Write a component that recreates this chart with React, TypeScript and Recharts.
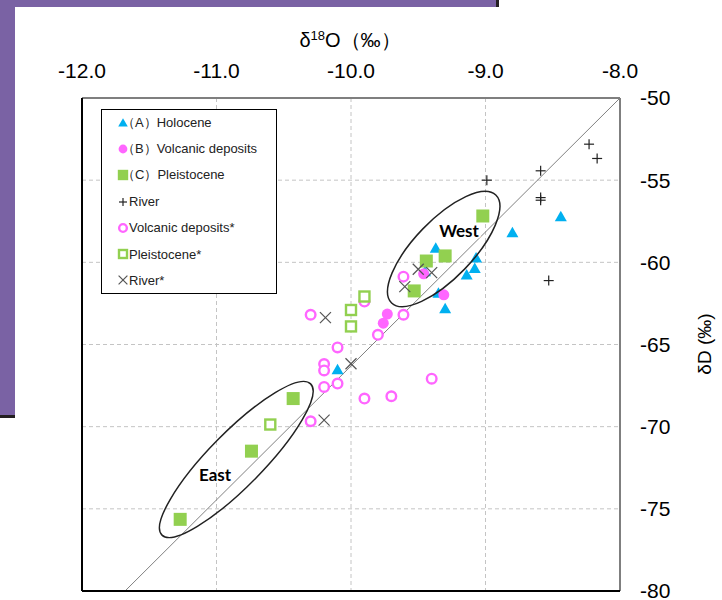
import { CartesianGrid, Legend, ReferenceLine, Scatter, ScatterChart, XAxis, YAxis } from 'recharts';

const xTicks = [-12, -11, -10, -9, -8];
const yTicks = [-50, -55, -60, -65, -70, -75, -80];

// [δ18O, δD]
const holocene = [
  [-9.37, -59.14], [-9.45, -60.58], [-9.07, -59.73], [-9.08, -60.37], [-9.14, -60.77],
  [-9.35, -61.88], [-9.3, -62.83], [-10.1, -66.53], [-8.8, -58.2], [-8.44, -57.22],
];
const volcanic = [[-9.46, -60.7], [-9.31, -61.98], [-9.73, -63.15], [-9.76, -63.7]];
const pleistocene = [
  [-9.44, -59.92], [-9.3, -59.61], [-9.53, -61.74], [-9.02, -57.18],
  [-10.43, -68.29], [-10.74, -71.49], [-11.27, -75.64],
];
const river = [
  [-8.23, -52.81], [-8.17, -53.68], [-8.59, -54.43], [-8.99, -55.0],
  [-8.59, -56.06], [-8.59, -56.22], [-8.53, -61.11],
];
const volcanicStar = [
  [-9.61, -60.87], [-9.9, -62.39], [-10.3, -63.19], [-9.61, -63.19], [-9.8, -64.41],
  [-10.1, -65.18], [-10.2, -66.19], [-10.2, -66.58], [-10.2, -67.58], [-10.1, -67.38],
  [-9.4, -67.08], [-9.9, -68.29], [-9.7, -68.15], [-10.3, -69.67],
];
const pleistoceneStar = [[-9.9, -62.08], [-10.0, -62.9], [-10.0, -63.9], [-10.6, -69.87]];
const riverStar = [
  [-9.5, -60.42], [-9.4, -60.63], [-9.6, -61.48], [-10.19, -63.36], [-10.0, -66.17], [-10.2, -69.6],
];

const lineEnds = [{ x: -11.68, y: -80 }, { x: -8, y: -50 }];

const BLUE = '#00B0F0';
const PINK = '#FF66FF';
const GREEN = '#92D050';
const font = "'Liberation Sans', Arial, sans-serif";

type Kind = 'tri' | 'dot' | 'sq' | 'plus' | 'ring' | 'box' | 'cross';

function marker(kind: Kind, cx: number, cy: number, k = 1) {
  switch (kind) {
    case 'tri':
      return <polygon points={`${cx},${cy - 6 * k} ${cx - 6 * k},${cy + 4.5 * k} ${cx + 6 * k},${cy + 4.5 * k}`} fill={BLUE} />;
    case 'dot':
      return <circle cx={cx} cy={cy} r={5.5 * k} fill={PINK} />;
    case 'sq':
      return <rect x={cx - 6.5 * k} y={cy - 6.5 * k} width={13 * k} height={13 * k} fill={GREEN} />;
    case 'plus':
      return (
        <g stroke="#222" strokeWidth={1.2}>
          <line x1={cx - 5 * k} y1={cy} x2={cx + 5 * k} y2={cy} />
          <line x1={cx} y1={cy - 5 * k} x2={cx} y2={cy + 5 * k} />
        </g>
      );
    case 'ring':
      return <circle cx={cx} cy={cy} r={4.8 * k} fill="#fff" stroke={PINK} strokeWidth={2.4} />;
    case 'box':
      return <rect x={cx - 5 * k} y={cy - 5 * k} width={10 * k} height={10 * k} fill="#fff" stroke={GREEN} strokeWidth={2.4} />;
    default:
      return (
        <g stroke="#555" strokeWidth={1.2}>
          <line x1={cx - 5.5 * k} y1={cy - 5.5 * k} x2={cx + 5.5 * k} y2={cy + 5.5 * k} />
          <line x1={cx - 5.5 * k} y1={cy + 5.5 * k} x2={cx + 5.5 * k} y2={cy - 5.5 * k} />
        </g>
      );
  }
}

const series: { name: string; data: number[][]; kind: Kind; wide?: boolean }[] = [
  { name: '（A）Holocene', data: holocene, kind: 'tri', wide: true },
  { name: '（B）Volcanic deposits', data: volcanic, kind: 'dot', wide: true },
  { name: '（C）Pleistocene', data: pleistocene, kind: 'sq', wide: true },
  { name: 'River', data: river, kind: 'plus' },
  { name: 'Volcanic deposits*', data: volcanicStar, kind: 'ring' },
  { name: 'Pleistocene*', data: pleistoceneStar, kind: 'box' },
  { name: 'River*', data: riverStar, kind: 'cross' },
];

const renderLegend = () => (
  <div
    style={{
      width: 176,
      height: 185,
      boxSizing: 'border-box',
      border: '1px solid #000',
      background: '#fff',
      fontFamily: font,
      fontSize: 13,
      color: '#222',
    }}
  >
    {series.map((s) => (
      <div key={s.name} style={{ display: 'flex', alignItems: 'center', height: 26.2, whiteSpace: 'nowrap' }}>
        <svg width={12} height={14} style={{ marginLeft: 15, flexShrink: 0 }}>
          {marker(s.kind, 6, 7, 0.8)}
        </svg>
        <span style={{ marginLeft: s.wide ? -7 : 0 }}>{s.name}</span>
      </div>
    ))}
  </div>
);

export default function App() {
  return (
    <div style={{ position: 'absolute', left: 0, top: 0, width: 722, height: 600, background: '#fff', overflow: 'hidden' }}>
      <div style={{ position: 'absolute', left: 0, top: 0, width: 499, height: 418, background: '#231f20' }} />
      <div style={{ position: 'absolute', left: 0, top: 0, width: 496, height: 415, background: '#7A62A4' }} />
      <div style={{ position: 'absolute', left: 15, top: 7, width: 707, height: 593, background: '#fff' }} />
      <ScatterChart
        width={722}
        height={600}
        margin={{ top: 58, right: 22, bottom: 9, left: 82 }}
        style={{ position: 'absolute', left: 0, top: 0 }}
      >
        <CartesianGrid stroke="#C4C4C4" strokeDasharray="4 3" />
        <XAxis
          type="number"
          dataKey="x"
          orientation="top"
          domain={[-12, -8]}
          ticks={xTicks}
          interval={0}
          height={40}
          axisLine={false}
          tickLine={false}
          tickSize={0}
          tickMargin={20}
          tickFormatter={(v: number) => v.toFixed(1)}
          tick={{ fontSize: 21, fill: '#000', fontFamily: font }}
          allowDataOverflow
        />
        <YAxis
          type="number"
          dataKey="y"
          orientation="right"
          domain={[-80, -50]}
          ticks={yTicks}
          interval={0}
          width={80}
          axisLine={false}
          tickLine={false}
          tickSize={0}
          tickMargin={20}
          tick={{ fontSize: 21, fill: '#000', fontFamily: font }}
          allowDataOverflow
        />
        <ReferenceLine segment={lineEnds} stroke="#808080" strokeWidth={1} />
        <ReferenceLine x={-8} stroke="#7F7F7F" strokeWidth={2} />
        <ReferenceLine y={-50} stroke="#7F7F7F" strokeWidth={2} />
        <ReferenceLine x={-12} stroke="#000" strokeWidth={2} />
        <ReferenceLine y={-80} stroke="#000" strokeWidth={2} />
        <Legend layout="vertical" align="center" verticalAlign="middle" content={renderLegend} wrapperStyle={{ left: 101, top: 109, width: 176, height: 185 }} />
        {series.map((s) => (
          <Scatter
            key={s.name}
            name={s.name}
            data={s.data.map(([x, y]) => ({ x, y }))}
            isAnimationActive={false}
            shape={(p: any) => marker(s.kind, p.cx, p.cy)}
          />
        ))}
      </ScatterChart>
      <svg width={722} height={600} style={{ position: 'absolute', left: 0, top: 0, pointerEvents: 'none' }}>
        <text x={350} y={47} textAnchor="middle" fontFamily={font} fontSize={20} fill="#000">
          δ<tspan fontSize={13} dy={-7}>18</tspan>
          <tspan dy={7}>O（‰）</tspan>
        </text>
        <text x={711} y={344} textAnchor="middle" fontFamily={font} fontSize={19} fill="#000" transform="rotate(-90 711 344)">
          δD (‰)
        </text>
        <ellipse cx={443.7} cy={249} rx={75} ry={29} fill="none" stroke="#222" strokeWidth={1.5} transform="rotate(-46 443.7 249)" />
        <ellipse cx={236.3} cy={459.5} rx={106} ry={27} fill="none" stroke="#222" strokeWidth={1.5} transform="rotate(-45.5 236.3 459.5)" />
        <text x={459} y={237} textAnchor="middle" fontFamily="Lato, 'Open Sans', sans-serif" fontWeight="bold" fontSize={17} fill="#000" stroke="#fff" strokeWidth={3} paintOrder="stroke">
          West
        </text>
        <text x={215} y={481} textAnchor="middle" fontFamily="Lato, 'Open Sans', sans-serif" fontWeight="bold" fontSize={17} fill="#000" stroke="#fff" strokeWidth={3} paintOrder="stroke">
          East
        </text>
      </svg>
    </div>
  );
}
